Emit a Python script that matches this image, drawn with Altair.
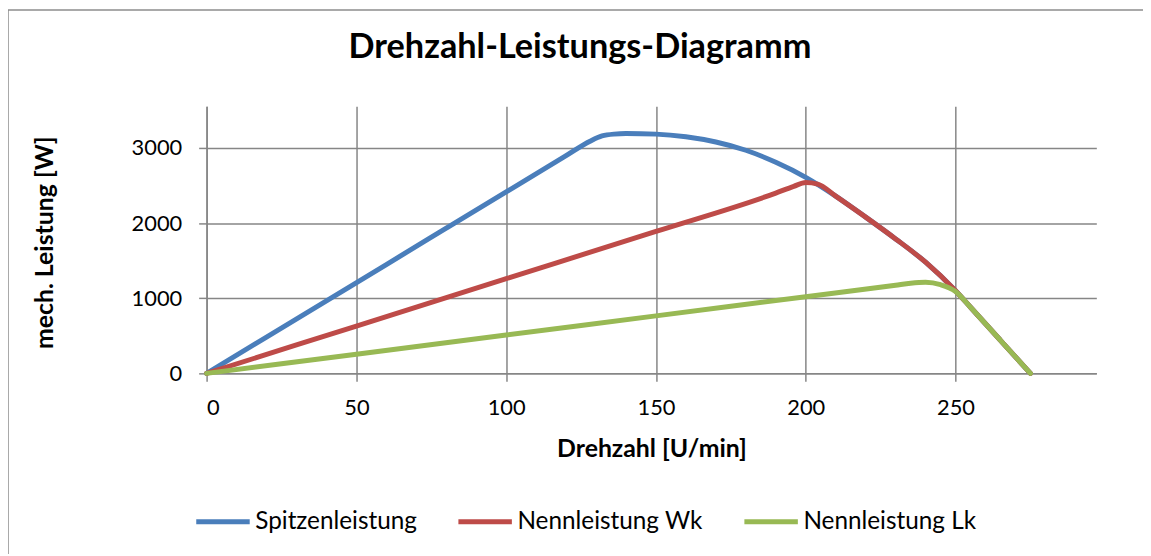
import altair as alt
import pandas as pd

# --- data ---
series_names = ["Spitzenleistung", "Nennleistung Wk", "Nennleistung Lk"]
series_colors = ["#4A7EBB", "#BE4B48", "#98B954"]

spitze_rpm = [0, 20, 40, 60, 80, 100, 120, 128, 132, 136, 140, 150, 160, 170, 180, 190, 200, 210, 220, 230, 240, 250, 255, 260, 265, 270, 275]
spitze_w   = [0, 483, 966, 1449, 1932, 2415, 2898, 3090, 3160, 3185, 3192, 3185, 3150, 3080, 2970, 2810, 2610, 2360, 2080, 1790, 1480, 1100, 880, 660, 440, 220, 0]

wk_rpm = [0, 50, 100, 150, 190, 196, 200, 204, 210, 220, 230, 240, 250, 255, 260, 265, 270, 275]
wk_w   = [0, 630, 1260, 1890, 2400, 2490, 2540, 2520, 2360, 2080, 1790, 1480, 1100, 880, 660, 440, 220, 0]

lk_rpm = [0, 50, 100, 150, 200, 230, 235, 240, 245, 250, 255, 260, 265, 270, 275]
lk_w   = [0, 255, 510, 765, 1020, 1173, 1200, 1212, 1180, 1090, 880, 660, 440, 220, 0]

x_ticks = [0, 50, 100, 150, 200, 250]
y_ticks = [0, 1000, 2000, 3000]

rows = []
for name, xs, ys in zip(series_names, [spitze_rpm, wk_rpm, lk_rpm], [spitze_w, wk_w, lk_w]):
    for i, (a, b) in enumerate(zip(xs, ys)):
        rows.append({"Serie": name, "rpm": a, "P": b, "i": i})
df = pd.DataFrame(rows)

FONT = "Lato"
GRID = "#868686"

PW, PH = 896, 269

lines = alt.Chart(df).mark_line(strokeWidth=5, interpolate="monotone", strokeCap="round").encode(
    x=alt.X("rpm:Q",
            scale=alt.Scale(domain=[0, 297], nice=False, zero=True),
            axis=alt.Axis(values=x_ticks, title="Drehzahl [U/min]", grid=True,
                          titleX=PW / 2, titleY=76, titleBaseline="middle",
                          labelPadding=16, labelFontSize=22, format="d")),
    y=alt.Y("P:Q",
            scale=alt.Scale(domain=[0, 3556], nice=False),
            axis=alt.Axis(values=y_ticks, title="mech. Leistung [W]", grid=True,
                          titleX=-163, titleY=137, titleBaseline="middle", titleAngle=-90,
                          titleAlign="center",
                          labelPadding=17, labelFontSize=22, format="d")),
    color=alt.Color("Serie:N",
                    scale=alt.Scale(domain=series_names, range=series_colors),
                    sort=series_names,
                    legend=alt.Legend(title=None, orient="none", direction="horizontal",
                                      legendX=-13, legendY=389,
                                      symbolType="stroke", symbolSize=2900,
                                      symbolStrokeWidth=5, labelOffset=3,
                                      columnPadding=31, labelFontSize=24.5,
                                      labelLimit=400,
                                      labelFont=FONT, labelColor="#000000")),
    detail="Serie:N",
    order="i:Q",
)

border_df = pd.DataFrame({"k": [0]})
border_top = alt.Chart(border_df).mark_rule(color="#8C8C8C", strokeWidth=1.5).encode(
    x=alt.value(-200), x2=alt.value(PW + 47), y=alt.value(-97)
)
border_left = alt.Chart(border_df).mark_rule(color="#8C8C8C", strokeWidth=1.5).encode(
    x=alt.value(-200), y=alt.value(-97), y2=alt.value(PH + 182)
)

chart = alt.layer(lines, border_top, border_left).properties(
    width=PW, height=PH,
    title=alt.TitleParams("Drehzahl-Leistungs-Diagramm", anchor="middle", dx=-72,
                          frame="group",
                          offset=-84, baseline="alphabetic", font=FONT,
                          fontSize=34.5, fontWeight="bold", color="#000000"),
    autosize=alt.AutoSizeParams(type="none"),
    padding={"left": 200, "top": 97, "right": 47, "bottom": 182},
).configure_view(stroke=None, clip=False).configure_axis(
    labelFont=FONT, titleFont=FONT, titleFontSize=25, titleFontWeight="bold",
    labelColor="#000000", titleColor="#000000",
    gridColor=GRID, gridWidth=1.5, gridOpacity=1,
    domainColor=GRID, domainWidth=1.5, tickColor=GRID, tickWidth=1.5, tickSize=8,
)

chart.save("out.html", embed_options={"renderer": "svg", "actions": False})
